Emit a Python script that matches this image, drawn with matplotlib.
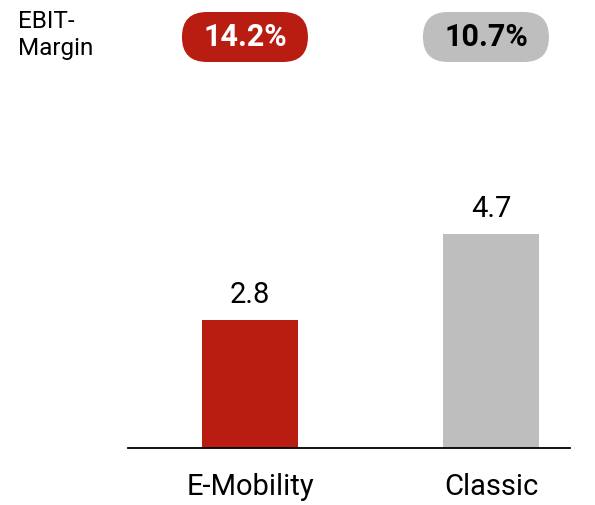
import matplotlib
matplotlib.use("Agg")
import matplotlib.pyplot as plt
from matplotlib.patches import FancyBboxPatch

categories = ["E-Mobility", "Classic"]
values = [2.8, 4.7]
margins = ["14.2%", "10.7%"]
colors = ["#B91C11", "#BEBEBE"]
margin_text_colors = ["white", "black"]

plt.rcParams['font.family'] = ['Roboto', 'DejaVu Sans']

W, H = 595, 505
fig = plt.figure(figsize=(W / 100, H / 100), dpi=100)
ax = fig.add_axes([128 / W, (H - 448) / H, (570 - 128) / W, 348 / H])

x = list(range(len(categories)))
bars = ax.bar(x, values, width=0.4, color=colors)
ax.set_xlim(-0.506, 1.328)
ax.set_ylim(0, 348 / 45.6)

for xi, v in zip(x, values):
    ax.annotate(f"{v:.1f}", (xi, v), xytext=(0, 8), textcoords="offset points",
                ha="center", va="bottom", fontsize=21, color="black")

for s in ["top", "right", "left"]:
    ax.spines[s].set_visible(False)
ax.spines["bottom"].set_linewidth(1.3)
ax.set_yticks([])
ax.set_xticks(x)
ax.set_xticklabels(categories, fontsize=21)
ax.tick_params(axis="x", length=0, pad=18)

# pills
pill_w, pill_h = 1.26, 0.50
pill_y = (H - 62) / 100
for xi, m, c, tc in zip(x, margins, colors, margin_text_colors):
    cx_px = ax.transData.transform((xi, 0))[0]
    cx = cx_px / 100 - 0.05
    patch = FancyBboxPatch((cx - pill_w / 2, pill_y), pill_w, pill_h,
                           boxstyle="round,pad=0,rounding_size=0.25",
                           transform=fig.dpi_scale_trans, facecolor=c,
                           edgecolor="none")
    fig.patches.append(patch)
    fig.text(cx, pill_y + pill_h / 2, m, transform=fig.dpi_scale_trans,
             ha="center", va="center", fontsize=22, fontweight="bold", color=tc)

fig.text(18 / W, 1 - 10 / H, "EBIT-\nMargin", ha="left", va="top",
         fontsize=17.5, linespacing=1.2)

fig.savefig("out.png", dpi=100)
